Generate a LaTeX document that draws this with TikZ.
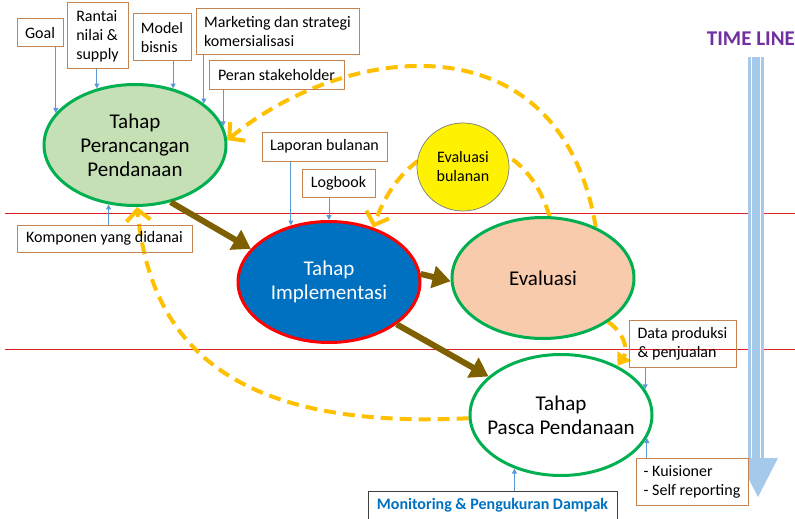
\documentclass[tikz,border=0pt]{standalone}
\usepackage{fontspec}
\setmainfont{Carlito}
\usetikzlibrary{arrows.meta,shapes.geometric}
\pgfdeclarelayer{background}
\pgfdeclarelayer{curves}
\pgfsetlayers{background,curves,main}

\definecolor{stagegreen}{RGB}{0,176,80}
\definecolor{lightgreen}{RGB}{197,224,180}
\definecolor{implblue}{RGB}{0,112,192}
\definecolor{salmon}{RGB}{248,203,173}
\definecolor{boxbrown}{RGB}{197,132,80}
\definecolor{infoblue}{RGB}{91,155,213}
\definecolor{flowbrown}{RGB}{127,96,0}
\definecolor{fbyellow}{RGB}{255,192,0}
\definecolor{sepred}{RGB}{225,30,40}
\definecolor{tlblue}{RGB}{165,201,234}
\definecolor{tlpurple}{RGB}{112,48,160}

\tikzstyle{stage}=[ellipse,draw=stagegreen,line width=3pt,minimum width=182pt,minimum height=121pt,inner sep=-25pt,align=center,font=\fontsize{21}{24}\selectfont]
\tikzstyle{infobox}=[draw=boxbrown,line width=1pt,inner sep=0pt,align=left,font=\fontsize{16}{19}\selectfont]
\tikzstyle{infoarrow}=[draw=infoblue,line width=1pt,-{Triangle[length=5pt,width=5pt]}]
\tikzstyle{flow}=[draw=flowbrown,line width=6pt,-{Triangle[length=18pt,width=22pt]}]
\tikzstyle{feedback}=[draw=fbyellow,line width=4pt,dash pattern=on 12pt off 7pt,-{Straight Barb[length=11pt,width=24pt]}]
\tikzstyle{sepline}=[draw=sepred,line width=1.2pt]

\begin{document}
\begin{tikzpicture}[x=1pt,y=-1pt]
      \useasboundingbox (0,0) rectangle (795,519);

      % the four stages
      \node[stage,fill=lightgreen] at (135,145) (perancangan) {Tahap\\Perancangan\\Pendanaan};
      \node[stage,fill=implblue,draw=red,text=white] at (329,282) (implementasi) {Tahap\\Implementasi};
      \node[stage,fill=salmon] at (543,278) (evaluasi) {Evaluasi};
      \node[stage,fill=white] at (561,415) (pasca) {Tahap\\Pasca Pendanaan};
      \node[ellipse,fill=yellow,draw=gray,line width=0.75pt,minimum width=92pt,minimum height=88pt,inner sep=-10pt,align=center,font=\fontsize{16}{19}\selectfont] at (463,167) (bulanan) {Evaluasi\\bulanan};

      % input boxes on top
      \node[infobox,minimum width=46pt,minimum height=28pt] at (40,33) (goal) {Goal};
      \node[infobox,minimum width=61pt,minimum height=66pt] at (97.5,36) (rantai) {Rantai\\nilai \&\\supply};
      \node[infobox,minimum width=58pt,minimum height=47pt] at (162,37.5) (model) {Model\\bisnis};
      \node[infobox,minimum width=163pt,minimum height=46pt] at (277.5,32) (marketing) {Marketing dan strategi\\komersialisasi};
      \node[infobox,minimum width=135pt,minimum height=28pt] at (276.5,75) (peran) {Peran stakeholder};
      \node[infobox,minimum width=125pt,minimum height=29pt] at (324.5,146.5) (laporan) {Laporan bulanan};
      \node[infobox,minimum width=73pt,minimum height=28pt] at (338.5,183) (logbook) {Logbook};
      \node[infobox,minimum width=175pt,minimum height=27pt] at (104.5,238.5) (komponen) {Komponen yang didanai};
      \node[infobox,minimum width=107pt,minimum height=47pt] at (682.5,344) (data) {Data produksi\\\& penjualan};
      \node[infobox,fill=white,minimum width=112pt,minimum height=47pt] at (692,481.5) (kuis) {- Kuisioner\\- Self reporting};
      \node[infobox,draw=darkgray,text=implblue,font=\bfseries\fontsize{16}{19}\selectfont,minimum width=249pt,minimum height=28pt] at (492.5,505) (monitor) {Monitoring \& Pengukuran Dampak};
      \node[font=\bfseries\fontsize{21}{24}\selectfont,text=tlpurple,anchor=east,inner sep=0pt] at (795,39) (timeline) {TIME LINE};

      % thin blue inputs
      \draw[infoarrow] (goal.south -| perancangan.158.4) -- (perancangan.158.4);
      \draw[infoarrow] (rantai.south -| perancangan.124) -- (perancangan.124);
      \draw[infoarrow] (model.south -| perancangan.56.8) -- (perancangan.56.8);
      \draw[infoarrow] (marketing.south -| perancangan.31.2) -- (perancangan.31.2);
      \draw[infoarrow] (peran.south -| perancangan.12.9) -- (perancangan.12.9);
      \draw[infoarrow] (komponen.north -| perancangan.246.6) -- (perancangan.246.6);
      \draw[infoarrow] (laporan.south -| implementasi.124.4) -- (implementasi.124.4);
      \draw[infoarrow] (logbook.south -| implementasi.north) -- (implementasi.north);
      \draw[infoarrow] (data.south -| pasca.17.6) -- (pasca.17.6);
      \draw[infoarrow] (kuis.north -| pasca.-15) -- (pasca.-15);
      \draw[infoarrow] (monitor.north -| pasca.229) -- (pasca.229);

      % main flow
      \draw[flow] (perancangan.-58) -- (implementasi.157);
      \draw[flow] (implementasi.5) -- (evaluasi.182);
      \draw[flow] (implementasi.-32) -- (pasca.152.5);

      % feedback loops (dashed)
      \begin{pgfonlayer}{curves}
      \draw[feedback] (evaluasi.44) .. controls +(-35,-209) and +(122,-100) .. (perancangan.3);
      \draw[feedback] (evaluasi.84) .. controls +(-29,-98) and +(38,-108) .. (implementasi.51);
      \draw[feedback,-{Triangle[length=12pt,width=16pt]}] (evaluasi.-34) .. controls +(16,11) and +(11,-16) .. (pasca.41);
      \draw[feedback] (pasca.182) .. controls +(-240,12) and +(13,135) .. (perancangan.-88);
      \end{pgfonlayer}

      % separators and time line
      \begin{pgfonlayer}{background}
      \draw[sepline] (5,213.5) -- (795,213.5);
      \draw[sepline] (5,349.5) -- (795,349.5);
      \fill[tlblue] (748,57) rectangle (764,460);
      \draw[white,line width=1.5pt] (751.5,57) -- (751.5,460);
      \draw[white,line width=1.5pt] (760.5,57) -- (760.5,460);
      \fill[tlblue] (738,458) -- (778,458) -- (758,497) -- cycle;
      \end{pgfonlayer}

\end{tikzpicture}
\end{document}
